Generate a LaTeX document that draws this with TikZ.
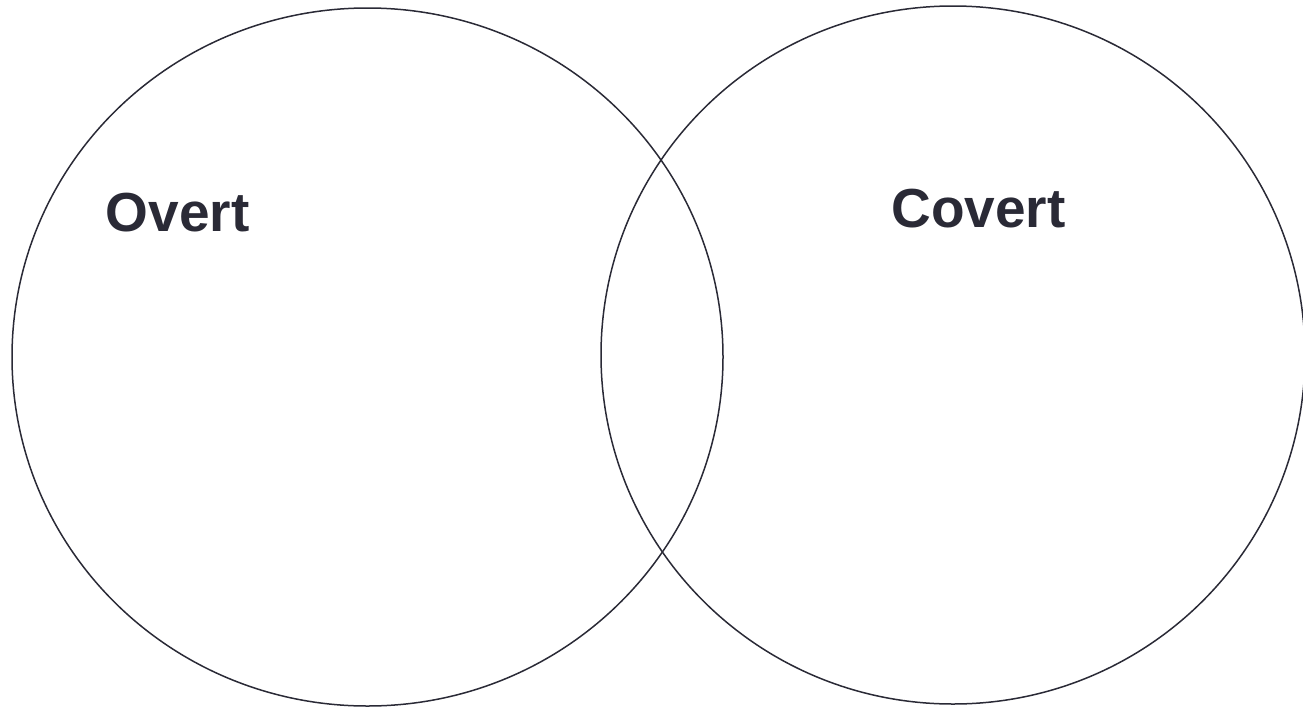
\documentclass[tikz,border=0pt]{standalone}
\usepackage{fontspec}
\setmainfont{Liberation Sans}
\usetikzlibrary{positioning}
\definecolor{colInk}{RGB}{42,42,54}

\begin{document}
\begin{tikzpicture}[x=1pt, y=-1pt,
  setline/.style={draw=colInk, line width=1.5pt},
  setlabel/.style={font=\fontsize{55}{60}\selectfont\bfseries, text=colInk,
    anchor=base, inner sep=0pt}]
  \useasboundingbox (0,0) rectangle (1303,707);
  \draw[setline] (367.5,357) ellipse [x radius=355.5, y radius=349];
  \draw[setline] (953,355) ellipse [x radius=352, y radius=349];
  \node[setlabel] (overt) at (177.5,231) {Overt};
  \node[setlabel] (covert) at (978.5,227) {Covert};
\end{tikzpicture}
\end{document}
